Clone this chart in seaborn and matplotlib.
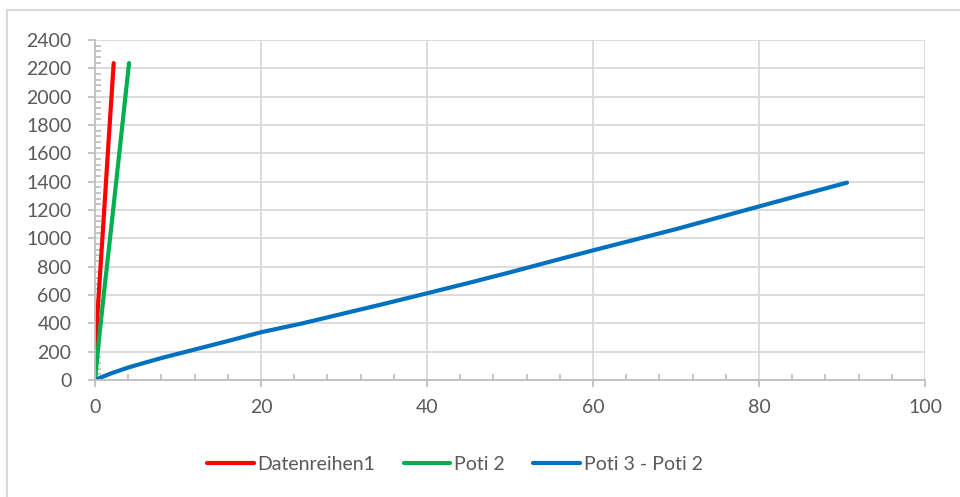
import numpy as np
import pandas as pd
import matplotlib
matplotlib.use('agg')
import seaborn as sns
import matplotlib.pyplot as plt
from matplotlib.lines import Line2D
from matplotlib.ticker import MultipleLocator

# values
red_x = [0.0, 0.5, 1.0, 1.6, 2.25]
red_y = [200, 650, 1100, 1650, 2237]

green_x = [0.0, 0.5, 1.2, 2.0, 3.0, 4.1]
green_y = [0, 300, 680, 1100, 1640, 2237]

blue_x = [0, 1, 2, 4, 6, 8, 10, 13, 16, 20, 25, 30, 35, 40, 45, 50, 55, 60, 65, 70, 75, 80, 85, 90.6]
blue_y = [0, 25, 48, 88, 122, 155, 185, 230, 275, 337, 400, 470, 540, 612, 685, 760, 838, 915, 990, 1065, 1145, 1225, 1305, 1393]

names = ["Datenreihen1", "Poti 2", "Poti 3 - Poti 2"]
colors = {"Datenreihen1": "#FF0000", "Poti 2": "#00B050", "Poti 3 - Poti 2": "#0070C0"}

frames = []
for name, xs, ys in zip(names, [red_x, green_x, blue_x], [red_y, green_y, blue_y]):
	frames.append(pd.DataFrame({"x": xs, "y": ys, "series": name}))
df = pd.concat(frames, ignore_index=True)

sns.set_style("white")
plt.rcParams['font.family'] = ['Lato', 'DejaVu Sans']
txt = "#595959"
axc = "#BFBFBF"
gridc = "#D9D9D9"

fig = plt.figure(figsize=(9.6, 4.97), dpi=100)
ax = fig.add_axes([95/960, 1-380/497, 830/960, 340/497])

sns.lineplot(data=df, x="x", y="y", hue="series", palette=colors, hue_order=names,
			sort=False, estimator=None, linewidth=3, ax=ax, legend=False,
			solid_capstyle='round')

ax.set_xlim(0, 100)
ax.set_ylim(0, 2400)
ax.xaxis.set_major_locator(MultipleLocator(20))
ax.xaxis.set_minor_locator(MultipleLocator(4))
ax.yaxis.set_major_locator(MultipleLocator(200))
ax.yaxis.set_minor_locator(MultipleLocator(40))
ax.set(xlabel='', ylabel='')

ax.grid(True, which='major', color=gridc, linewidth=1.3)
ax.set_axisbelow(True)
for s in ["top", "right"]:
	ax.spines[s].set_visible(False)
for s in ["left", "bottom"]:
	ax.spines[s].set_color(axc)
	ax.spines[s].set_linewidth(1.3)

ax.tick_params(axis='both', which='both', left=True, bottom=True)
ax.tick_params(axis='both', which='major', direction='out', length=5, width=1.3,
			color=axc, labelcolor=txt, labelsize=14)
ax.tick_params(axis='both', which='minor', direction='in', length=4, width=1.3, color=axc)
ax.tick_params(axis='y', which='major', pad=12)
ax.tick_params(axis='x', which='major', pad=9)

# chart area border (only top/left visible in the crop)
fig.add_artist(Line2D([7/960, 7/960], [0, 1-10/497], color=gridc, lw=1.5))
fig.add_artist(Line2D([7/960, 1], [1-10/497, 1-10/497], color=gridc, lw=1.5))

handles = [Line2D([], [], color=colors[n], lw=3) for n in names]
leg = fig.legend(handles, names, ncol=3, loc='center', bbox_to_anchor=(455/960, 1-464/497),
			frameon=False, fontsize=14, handlelength=2.4, handletextpad=0.2, columnspacing=1.45)
for t in leg.get_texts():
	t.set_color(txt)

fig.savefig("out.png", dpi=100)
